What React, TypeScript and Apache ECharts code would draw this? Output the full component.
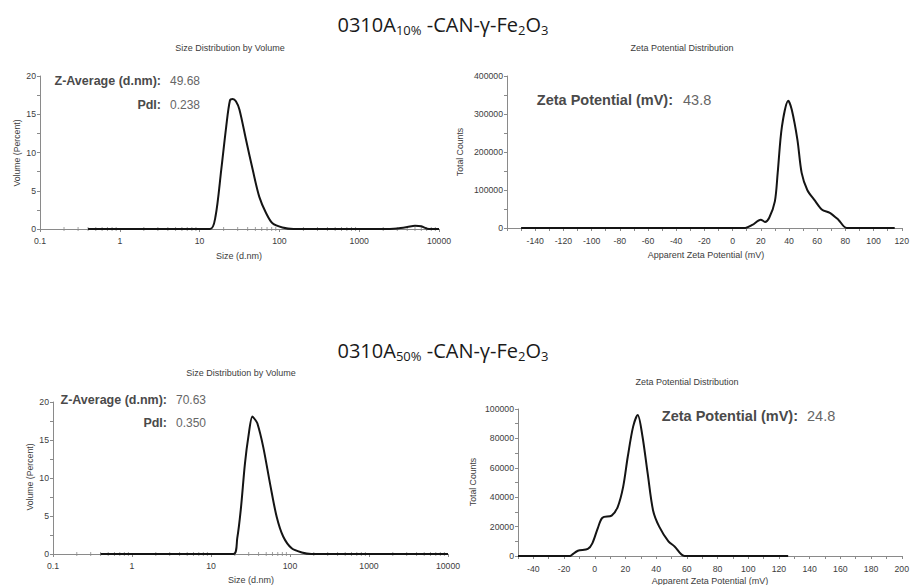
import React, { useEffect, useRef } from 'react';
import * as echarts from 'echarts';

// ---- data ----
const size1X = [0.4, 13.5, 15.8, 18.7, 21.5, 24, 26, 28.5, 31.6, 38.3, 46.4, 56, 68, 82, 109, 150, 2000, 3000, 4000, 5000, 6000, 7500, 10000];
const size1Y = [0, 0, 1.6, 7.8, 13.3, 16.8, 17.0, 16.7, 15.6, 11.6, 7.7, 4.2, 2.1, 0.75, 0.2, 0, 0, 0.08, 0.25, 0.42, 0.35, 0, 0];

const zeta1X = [-150, 9, 14, 20, 23, 26, 30, 32, 35, 39.5, 42, 46, 49, 53, 58, 63.5, 69, 75, 81, 115];
const zeta1Y = [0, 0, 8000, 22000, 16000, 27000, 70000, 145000, 267000, 335000, 311000, 232000, 145000, 100000, 74000, 48000, 40000, 22000, 0, 0];

const size2X = [0.4, 19.2, 21.5, 23.8, 26.9, 29.7, 33.4, 35.5, 38.6, 45.8, 55.8, 67.8, 82, 105, 141, 186, 10000];
const size2Y = [0, 0, 2.1, 5.8, 11.9, 15.4, 18.1, 17.8, 17.2, 14.1, 9.3, 4.9, 2.3, 0.75, 0.2, 0, 0];

const zeta2X = [-50, -16, -15, -11, -4.5, -1.5, 2, 5, 11, 15, 18.5, 21.5, 25, 28, 31, 34.5, 38, 42, 48, 52, 58.5, 126];
const zeta2Y = [0, 0, 700, 3600, 4800, 8800, 19000, 26000, 27500, 33500, 47000, 67500, 88000, 96000, 82000, 56000, 31000, 20000, 10000, 6500, 0, 0];

const logMinorTicks = [0.2, 0.3, 0.4, 0.5, 0.6, 0.7, 0.8, 0.9, 2, 3, 4, 5, 6, 7, 8, 9, 20, 30, 40, 50, 60, 70, 80, 90, 200, 300, 400, 500, 600, 700, 800, 900, 2000, 3000, 4000, 5000, 6000, 7000, 8000, 9000];

const sampleNames = ['10%', '50%'];
const zAverages = ['49.68', '70.63'];
const pdis = ['0.238', '0.350'];
const zetaPotentials = ['43.8', '24.8'];

const FONT = '"Liberation Sans", Arial, sans-serif';
const AXIS_GRAY = '#8a8a8a';
const LABEL = '#3c3c3c';

function pairs(xs: number[], ys: number[]) {
  return xs.map((x, i) => [x, ys[i]]);
}

function txt(x: number, y: number, text: string, extra: any = {}) {
  return {
    type: 'text',
    x,
    y,
    silent: true,
    style: {
      text,
      fontFamily: FONT,
      fontSize: 9,
      fill: LABEL,
      align: 'center',
      verticalAlign: 'middle',
      ...extra,
    },
  };
}

function vtxt(x: number, y: number, text: string) {
  return {
    type: 'text',
    x,
    y,
    rotation: Math.PI / 2,
    silent: true,
    style: {
      text,
      fontFamily: FONT,
      fontSize: 8.7,
      fill: LABEL,
      align: 'center',
      verticalAlign: 'middle',
    },
  };
}

function mainTitle(y: number, pct: string) {
  return {
    type: 'text',
    x: 443,
    y,
    silent: true,
    style: {
      text: `{a|0310A}{s|${pct}}{a| -CAN-γ-Fe}{s|2}{a|O}{s|3}`,
      align: 'center',
      verticalAlign: 'middle',
      rich: {
        a: { fontFamily: '"Open Sans", sans-serif', fontSize: 20, fill: '#1a1a1a' },
        s: { fontFamily: '"Open Sans", sans-serif', fontSize: 13, fill: '#1a1a1a', padding: [11, 0, 0, 0] },
      },
    },
  };
}

const axisCommon = {
  axisLine: { show: true, onZero: false, lineStyle: { color: AXIS_GRAY, width: 1 } },
  axisTick: { show: true, length: 3, lineStyle: { color: AXIS_GRAY } },
  splitLine: { show: false },
  axisLabel: { fontFamily: FONT, fontSize: 8.7, color: LABEL },
};

function sizeXAxis(gridIndex: number) {
  return {
    ...axisCommon,
    type: 'log',
    logBase: 10,
    gridIndex,
    min: 0.1,
    max: 10000,
    axisLabel: {
      ...axisCommon.axisLabel,
      margin: 7,
      formatter: (v: number) => (v < 1 ? '0.1' : String(Math.round(v))),
    },
  };
}

function zetaXAxis(gridIndex: number, min: number, max: number, hideMin: boolean) {
  return {
    ...axisCommon,
    type: 'value',
    gridIndex,
    min,
    max,
    interval: 10,
    axisLabel: {
      ...axisCommon.axisLabel,
      margin: 8,
      formatter: (v: number) => (v % 20 === 0 && !(hideMin && v === min) ? String(v) : ''),
    },
  };
}

function yAxis(gridIndex: number, max: number, interval: number) {
  return {
    ...axisCommon,
    type: 'value',
    gridIndex,
    min: 0,
    max,
    interval,
    minorTick: { show: true, splitNumber: 2, length: 3, lineStyle: { color: AXIS_GRAY } },
    axisLabel: { ...axisCommon.axisLabel, margin: 4, formatter: (v: number) => String(v) },
  };
}

function lineSeries(idx: number, data: number[][]) {
  return {
    type: 'line',
    xAxisIndex: idx,
    yAxisIndex: idx,
    data,
    symbol: 'none',
    smooth: 0.3,
    lineStyle: { color: '#141414', width: 2 },
    z: 3,
    silent: true,
  };
}

function minorTickSeries(idx: number) {
  return {
    type: 'scatter',
    xAxisIndex: idx,
    yAxisIndex: idx,
    data: logMinorTicks.map((v) => [v, 0]),
    symbol: 'rect',
    symbolSize: [1, 4],
    itemStyle: { color: AXIS_GRAY },
    z: 2,
    silent: true,
  };
}

export default function App() {
  const ref = useRef<HTMLDivElement>(null);

  useEffect(() => {
    if (!ref.current) return;
    const chart = echarts.init(ref.current, undefined, { renderer: 'svg' });
    const boldLabel = { fontWeight: 'bold', fill: '#4a4a4a', align: 'right', fontSize: 12.5 };
    const valueLabel = { fill: '#666', align: 'left', fontSize: 12 };
    chart.setOption({
      animation: false,
      backgroundColor: '#ffffff',
      grid: [
        { left: 40, top: 76, width: 399, height: 153 },
        { left: 507, top: 76, width: 398, height: 152 },
        { left: 53, top: 402, width: 395, height: 152 },
        { left: 518, top: 409, width: 384, height: 147 },
      ],
      xAxis: [
        sizeXAxis(0),
        zetaXAxis(1, -160, 120, true),
        sizeXAxis(2),
        zetaXAxis(3, -50, 200, true),
      ],
      yAxis: [
        yAxis(0, 20, 5),
        yAxis(1, 400000, 100000),
        yAxis(2, 20, 5),
        yAxis(3, 100000, 20000),
      ],
      series: [
        minorTickSeries(0),
        lineSeries(0, pairs(size1X, size1Y)),
        lineSeries(1, pairs(zeta1X, zeta1Y)),
        minorTickSeries(2),
        lineSeries(2, pairs(size2X, size2Y)),
        lineSeries(3, pairs(zeta2X, zeta2Y)),
      ],
      graphic: [
        mainTitle(24, sampleNames[0]),
        mainTitle(350, sampleNames[1]),
        // chart 1
        txt(230, 48, 'Size Distribution by Volume'),
        txt(239, 256, 'Size (d.nm)'),
        vtxt(17, 153, 'Volume (Percent)'),
        txt(161, 81, 'Z-Average (d.nm):', boldLabel),
        txt(170, 81, zAverages[0], valueLabel),
        txt(161, 105, 'PdI:', boldLabel),
        txt(170, 105, pdis[0], valueLabel),
        // chart 2
        txt(682, 48, 'Zeta Potential Distribution'),
        txt(706, 255, 'Apparent Zeta Potential (mV)'),
        vtxt(460, 152, 'Total Counts'),
        txt(673, 100, 'Zeta Potential (mV):', { ...boldLabel, fontSize: 14.5 }),
        txt(683, 100, zetaPotentials[0], { ...valueLabel, fontSize: 14.5 }),
        // chart 3
        txt(241, 373, 'Size Distribution by Volume'),
        txt(251, 580, 'Size (d.nm)'),
        vtxt(30, 477, 'Volume (Percent)'),
        txt(167, 400, 'Z-Average (d.nm):', boldLabel),
        txt(176, 400, zAverages[1], valueLabel),
        txt(167, 423, 'PdI:', boldLabel),
        txt(176, 423, pdis[1], valueLabel),
        // chart 4
        txt(687, 382, 'Zeta Potential Distribution'),
        txt(710, 581, 'Apparent Zeta Potential (mV)'),
        vtxt(473, 482, 'Total Counts'),
        txt(798, 416, 'Zeta Potential (mV):', { ...boldLabel, fontSize: 14.5 }),
        txt(807, 416, zetaPotentials[1], { ...valueLabel, fontSize: 14.5 }),
      ],
    });
    return () => chart.dispose();
  }, []);

  return (
    <div
      ref={ref}
      style={{ position: 'fixed', left: 0, top: 0, width: 912, height: 585, background: '#fff' }}
    />
  );
}
